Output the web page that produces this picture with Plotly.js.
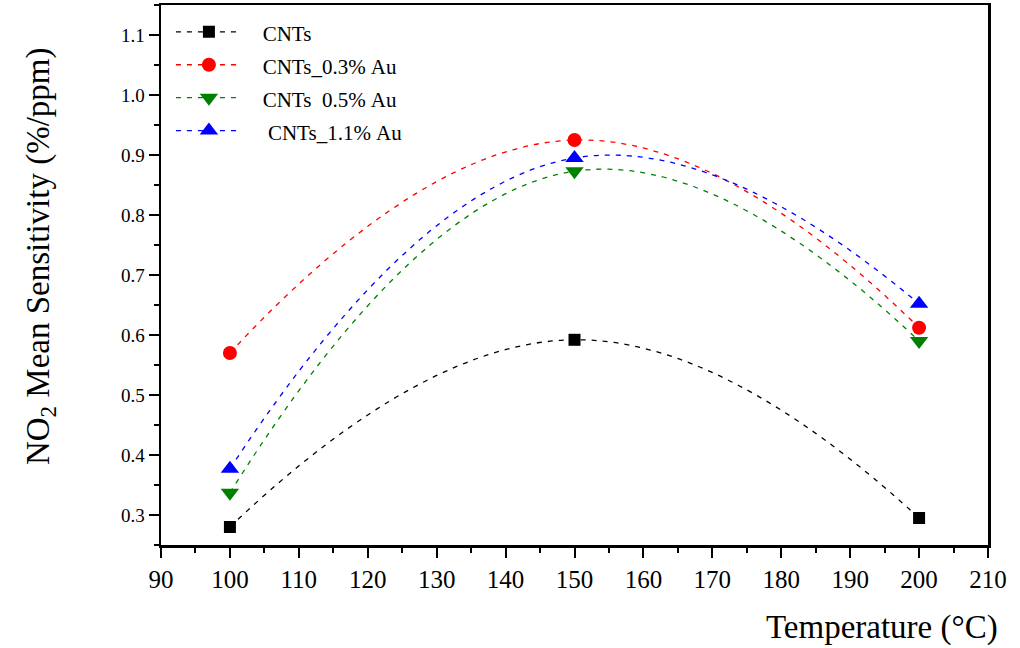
<!DOCTYPE html>
<html>
<head>
<meta charset="utf-8">
<script src="https://cdn.plot.ly/plotly-3.0.1.min.js"></script>
<style>html,body{margin:0;padding:0;background:#fff;}#chart{width:1020px;height:648px;}</style>
</head>
<body>
<div id="chart"></div>
<script>
var temperature = [100, 150, 200];
var cnts = [0.28, 0.592, 0.295];
var cnts03Au = [0.57, 0.925, 0.612];
var cnts05Au = [0.337, 0.873, 0.59];
var cnts11Au = [0.377, 0.895, 0.652];
var seriesNames = ["CNTs", "CNTs_0.3% Au", "CNTs  0.5% Au", "CNTs_1.1% Au"];
var xTicks = [90, 100, 110, 120, 130, 140, 150, 160, 170, 180, 190, 200, 210];
var yTicks = [0.3, 0.4, 0.5, 0.6, 0.7, 0.8, 0.9, 1.0, 1.1];

var NB = '\u00a0';
function legendLabel(name, pad) {
  return '<span style="font-size:21px">' + NB.repeat(pad) + name.replace(/ /g, NB) + '</span>';
}
function mk(y, name, pad, color, symbol, size) {
  return {
    x: temperature, y: y, name: legendLabel(name, pad), type: 'scatter', mode: 'lines+markers',
    line: {color: color, width: 1.3, dash: '5px,6px', shape: 'spline', smoothing: 1.3},
    marker: {color: color, symbol: symbol, size: size, line: {width: 0}}
  };
}
var data = [
  mk(cnts, seriesNames[0], 3, '#000000', 'square', 12),
  mk(cnts03Au, seriesNames[1], 3, '#ff0000', 'circle', 14),
  mk(cnts05Au, seriesNames[2], 3, '#008000', 'triangle-down', 16),
  mk(cnts11Au, seriesNames[3], 4, '#0000ff', 'triangle-up', 16)
];
var serif = 'Liberation Serif, Times New Roman, serif';
var layout = {
  width: 1020, height: 648,
  margin: {l: 161, r: 32, t: 5, b: 103},
  paper_bgcolor: '#fff', plot_bgcolor: '#fff',
  showlegend: true,
  legend: {x: 0.012, y: 0.99, xanchor: 'left', yanchor: 'top', bgcolor: 'rgba(0,0,0,0)',
    font: {family: serif, size: 23, color: '#000'}, itemwidth: 66},
  xaxis: {
    range: [90, 210], tickvals: xTicks, ticktext: xTicks.map(String),
    showgrid: false, zeroline: false, showline: true, linecolor: '#000', linewidth: 2.5, mirror: true,
    ticks: 'outside', ticklen: 10, tickwidth: 2, tickcolor: '#000',
    minor: {dtick: 5, tick0: 90, ticks: 'outside', ticklen: 5, tickwidth: 2, tickcolor: '#000'},
    tickfont: {family: serif, size: 25, color: '#000'}
  },
  yaxis: {
    range: [0.25, 1.15], tickvals: yTicks, ticktext: yTicks.map(function(v){return v.toFixed(1);}),
    showgrid: false, zeroline: false, showline: true, linecolor: '#000', linewidth: 2.5, mirror: true,
    ticks: 'outside', ticklen: 10, tickwidth: 2, tickcolor: '#000',
    minor: {dtick: 0.05, tick0: 0.25, ticks: 'outside', ticklen: 5, tickwidth: 2, tickcolor: '#000'},
    tickfont: {family: serif, size: 19, color: '#000'}
  },
  annotations: [
    {text: 'Temperature (°C)', xref: 'paper', yref: 'paper', x: 1.015, y: 0, xanchor: 'right', yanchor: 'top',
     yshift: -62, showarrow: false, font: {family: serif, size: 33, color: '#000'}},
    {text: 'NO<sub>2</sub> Mean Sensitivity (%/ppm)', xref: 'paper', yref: 'paper', x: 0, y: 0.535,
     xanchor: 'center', yanchor: 'middle', xshift: -121, textangle: -90, showarrow: false,
     font: {family: serif, size: 33, color: '#000'}}
  ]
};
Plotly.newPlot('chart', data, layout, {staticPlot: true});
</script>
</body>
</html>
